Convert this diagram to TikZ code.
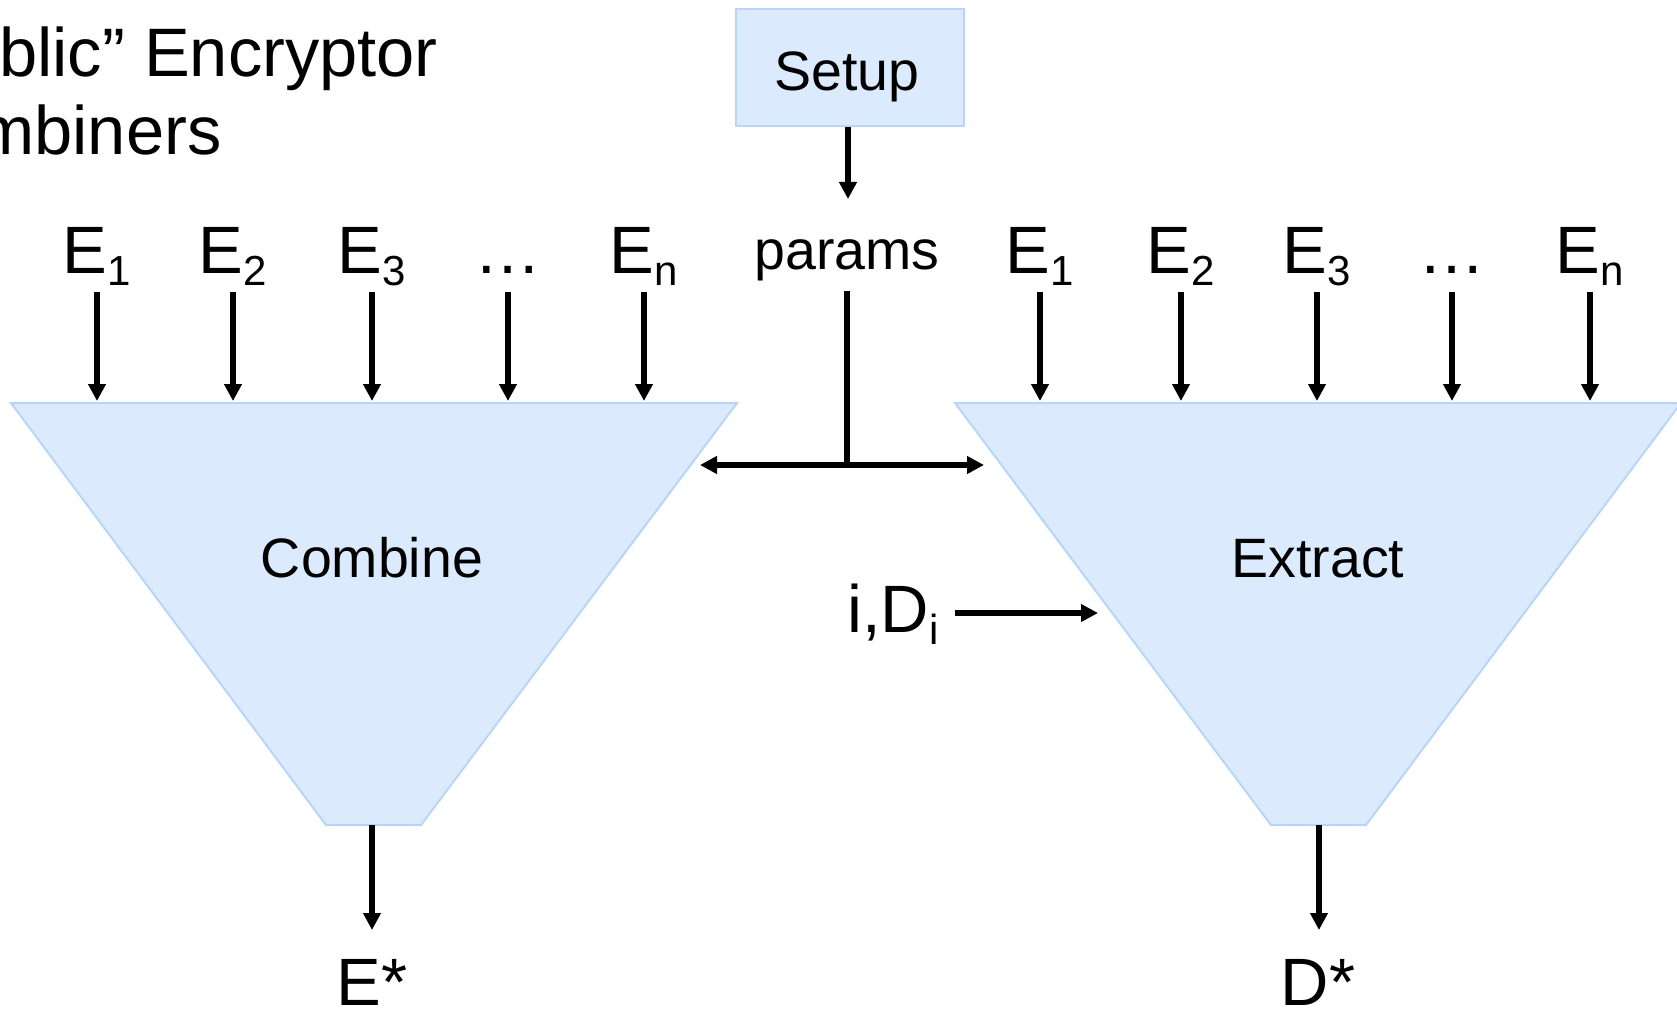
\documentclass[tikz,border=0pt]{standalone}
\usepackage{fontspec}
\setmainfont{Liberation Sans}
\usetikzlibrary{arrows.meta,calc}

\definecolor{boxfill}{RGB}{220,234,253}
\definecolor{boxedge}{RGB}{183,213,250}

\newcommand\headtext{\fontsize{34.3}{41}\selectfont}
\newcommand\bigtext{\fontsize{33.5}{40}\selectfont}
\newcommand\smalltext{\fontsize{27.75}{33}\selectfont}
\newcommand\lowsub[1]{\raisebox{-6pt}{\fontsize{21}{25}\selectfont #1}}

\begin{document}
\begin{tikzpicture}[x=0.5pt,y=-0.5pt,
  arr/.style={line width=2.6pt,-{Triangle[length=8.5pt,width=8.5pt]}},
  twoway/.style={line width=2.6pt,{Triangle[length=8.5pt,width=8.5pt]}-{Triangle[length=8.5pt,width=8.5pt]}},
  plain/.style={line width=2.6pt},
  funnel/.style={fill=boxfill,draw=boxedge,line width=1pt},
  lbl/.style={inner sep=0pt,anchor=base,font=\bigtext},
  slbl/.style={inner sep=0pt,anchor=base,font=\smalltext}]
\useasboundingbox (0,0) rectangle (1677,1011);

% heading
\node[inner sep=0pt,anchor=base west,font=\headtext] (title1) at (-1,77) {blic” Encryptor};
\node[inner sep=0pt,anchor=base west,font=\headtext] (title2) at (-23,155) {mbiners};

% setup box and its output
\node[funnel,minimum width=114pt,minimum height=58.5pt,inner sep=0pt] (setup) at (850,67.5) {};
\node[slbl] (setuplbl) at (847,91) {Setup};
\node[slbl] (params) at (847,270) {params};
\coordinate (ptip) at (848,199);
\draw[arr] (ptip |- setup.south) -- (ptip);

% params shared by both funnels
\coordinate (pl) at (700,465);
\coordinate (pr) at (984,465);
\draw[plain,shorten <=4.5pt] (params.south) -- (params.south |- pl);
\draw[twoway] (pl) -- (pr);

% the two funnels
\draw[funnel] (11,403) -- (737,403) -- (421,825) -- (326,825) -- cycle;
\draw[funnel] (955,403) -- (1681,403) -- (1366,825) -- (1271,825) -- cycle;
\node[slbl] (combine) at (372,577) {Combine};
\node[slbl] (extract) at (1318,577) {Extract};

% inputs
\coordinate (rowtop) at (0,292);
\coordinate (rowbot) at (0,401);
\foreach \x/\t/\n in {97/{E\lowsub{1}}/ca, 233/{E\lowsub{2}}/cb, 372/{E\lowsub{3}}/cc, 508/{…}/cd, 644/{E\lowsub{n}}/ce,
                      1040/{E\lowsub{1}}/xa, 1181/{E\lowsub{2}}/xb, 1317/{E\lowsub{3}}/xc, 1452/{…}/xd, 1590/{E\lowsub{n}}/xe} {
  \node[lbl] (\n) at (\x,273) {\t};
  \draw[arr] (\n |- rowtop) -- (\n |- rowbot);
}

% key input to Extract
\node[lbl,anchor=base east] (idi) at (939,632) {i,D\lowsub{i}};
\coordinate (xin) at (1098,613);
\draw[arr,shorten <=8pt] (idi.east |- xin) -- (xin);

% outputs
\coordinate (outtip) at (0,930);
\coordinate (cbot) at (372,825);
\coordinate (xbot) at (1319,825);
\node[lbl] (estar) at (372,1005) {E*};
\node[lbl] (dstar) at (1318,1005) {D*};
\draw[arr] (cbot) -- (cbot |- outtip);
\draw[arr] (xbot) -- (xbot |- outtip);
\end{tikzpicture}
\end{document}
